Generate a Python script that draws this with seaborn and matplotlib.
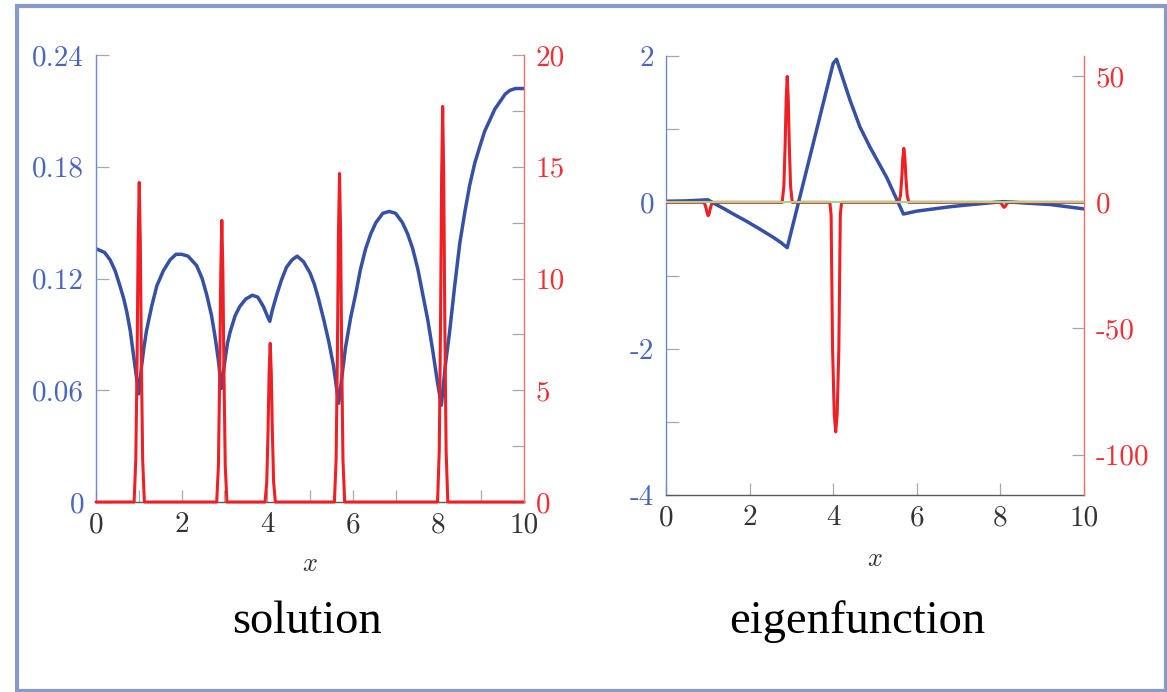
import matplotlib
matplotlib.use("Agg")
import matplotlib.pyplot as plt
from matplotlib.patches import Rectangle
import seaborn as sns

# ------------------------------------------------------------
# values
# ------------------------------------------------------------
# left panel, blue curve (solution)
sol_x = [0.0, 0.2, 0.33, 0.45, 0.56, 0.65, 0.72, 0.80, 0.87, 0.94, 1.0,
         1.06, 1.12, 1.18, 1.30, 1.42, 1.57, 1.73, 1.87, 2.0, 2.15, 2.35,
         2.48, 2.59, 2.70, 2.78, 2.86, 2.93, 3.0, 3.07, 3.13, 3.25, 3.36,
         3.50, 3.65, 3.78, 3.91, 4.0, 4.06, 4.12, 4.22, 4.33, 4.45, 4.58,
         4.70, 4.85, 5.0, 5.1, 5.2, 5.32, 5.44, 5.55, 5.67, 5.76, 5.83,
         5.95, 6.07, 6.18, 6.30, 6.42, 6.54, 6.70, 6.85, 7.0, 7.16, 7.28,
         7.40, 7.52, 7.63, 7.75, 7.87, 7.98, 8.07, 8.16, 8.26, 8.38, 8.5,
         8.62, 8.73, 8.85, 8.97, 9.08, 9.2, 9.32, 9.44, 9.56, 9.67, 9.8, 10.0]
sol_y = [0.136, 0.134, 0.130, 0.124, 0.116, 0.109, 0.102, 0.092, 0.080, 0.068, 0.058,
         0.072, 0.083, 0.092, 0.105, 0.116, 0.124, 0.130, 0.133, 0.133, 0.132, 0.127,
         0.120, 0.111, 0.100, 0.089, 0.076, 0.061, 0.074, 0.085, 0.091, 0.100, 0.105,
         0.109, 0.111, 0.110, 0.105, 0.100, 0.097, 0.103, 0.111, 0.119, 0.126, 0.130,
         0.132, 0.129, 0.123, 0.117, 0.109, 0.098, 0.086, 0.073, 0.053, 0.070, 0.083,
         0.099, 0.112, 0.125, 0.136, 0.144, 0.150, 0.155, 0.156, 0.155, 0.150, 0.144,
         0.136, 0.125, 0.112, 0.098, 0.081, 0.064, 0.052, 0.073, 0.091, 0.116, 0.139,
         0.156, 0.170, 0.182, 0.191, 0.199, 0.205, 0.211, 0.215, 0.219, 0.221, 0.222, 0.222]

# left panel, red spikes (right axis)
sol_src_x = [0.0,
             0.89, 0.93, 0.96, 0.985, 1.01, 1.035, 1.06, 1.09, 1.13,
             2.82, 2.86, 2.89, 2.915, 2.94, 2.965, 2.99, 3.02, 3.06,
             3.95, 3.99, 4.02, 4.045, 4.07, 4.095, 4.12, 4.15, 4.19,
             5.57, 5.61, 5.64, 5.665, 5.69, 5.715, 5.74, 5.77, 5.81,
             7.98, 8.02, 8.05, 8.075, 8.10, 8.125, 8.15, 8.18, 8.22,
             10.0]
sol_src_y = [0.0,
             0, 1.9, 6.4, 11.7, 14.3, 11.7, 6.4, 1.9, 0,
             0, 1.6, 5.7, 10.3, 12.6, 10.3, 5.7, 1.6, 0,
             0, 0.9, 3.2, 5.8, 7.1, 5.8, 3.2, 0.9, 0,
             0, 1.9, 6.6, 12.1, 14.7, 12.1, 6.6, 1.9, 0,
             0, 2.3, 8.0, 14.5, 17.7, 14.5, 8.0, 2.3, 0,
             0.0]

# right panel, blue curve (eigenfunction)
eig_x = [0.0, 0.5, 1.0, 1.2, 1.4, 1.61, 1.9, 2.17, 2.4, 2.57, 2.75, 2.90,
         4.0, 4.08, 4.40, 4.64, 4.88, 5.28, 5.68,
         6.0, 6.4, 6.8, 7.19, 7.6, 8.07, 8.6, 9.19, 9.6, 10.0]
eig_y = [0.015, 0.02, 0.035, -0.03, -0.09, -0.16, -0.25, -0.34, -0.42, -0.48, -0.55, -0.62,
         1.90, 1.956, 1.40, 1.03, 0.755, 0.34, -0.16,
         -0.12, -0.09, -0.06, -0.037, -0.015, 0.01, -0.01, -0.03, -0.06, -0.09]

# right panel, red spikes (right axis)
eig_src_x = [0.0,
             0.89, 0.93, 0.96, 0.985, 1.01, 1.035, 1.06, 1.09, 1.13,
             2.78, 2.82, 2.85, 2.875, 2.90, 2.925, 2.95, 2.98, 3.02,
             3.92, 3.95, 3.965, 3.985, 4.025, 4.06, 4.095, 4.135, 4.155, 4.17, 4.20,
             5.57, 5.61, 5.64, 5.665, 5.69, 5.715, 5.74, 5.77, 5.81,
             7.97, 8.01, 8.04, 8.065, 8.09, 8.115, 8.14, 8.17, 8.21,
             10.0]
eig_src_y = [0.0,
             0, -0.7, -2.4, -4.3, -5.3, -4.3, -2.4, -0.7, 0,
             0, 6.5, 22.5, 40.9, 49.9, 40.9, 22.5, 6.5, 0,
             0, -5.0, -28.0, -58.0, -84.0, -91.0, -84.0, -58.0, -28.0, -5.0, 0,
             0, 2.8, 9.6, 17.5, 21.4, 17.5, 9.6, 2.8, 0,
             0, -0.3, -0.9, -1.6, -2.0, -1.6, -0.9, -0.3, 0,
             0.0]
eig_zero_level = 0.0

# ticks and labels
x_ticks = [0, 2, 4, 6, 8, 10]
x_labels = ["0", "2", "4", "6", "8", "10"]
sol_left_ticks = [0, 0.06, 0.12, 0.18, 0.24]
sol_left_labels = ["0", "0.06", "0.12", "0.18", "0.24"]
sol_right_ticks = [0, 5, 10, 15, 20]
sol_right_labels = ["0", "5", "10", "15", "20"]
eig_left_ticks = [-4, -2, 0, 2]
eig_left_labels = ["-4", "-2", "0", "2"]
eig_right_ticks = [-100, -50, 0, 50]
eig_right_labels = ["-100", "-50", "0", "50"]
captions = ["solution", "eigenfunction"]

# ------------------------------------------------------------
# styling
# ------------------------------------------------------------
BLUE = "#3651a3"
BLUE_TXT = "#4a66bb"
BLUE_SPINE = "#7088cc"
RED = "#ee1f25"
RED_TXT = "#ee3035"
RED_SPINE = "#f07070"
GREEN = "#9bd98e"
TICK = "#a8a8a8"
FRAME = "#8a9ac8"

sns.set_style("white")
plt.rcParams["font.family"] = ["cmr10", "DejaVu Serif"]
plt.rcParams["mathtext.fontset"] = "cm"
plt.rcParams["axes.unicode_minus"] = False

W, H = 1167, 692
fig = plt.figure(figsize=(W / 100, H / 100), dpi=100)


def style_pair(ax, ax2):
    ax.spines["top"].set_visible(False)
    ax.spines["right"].set_visible(False)
    ax2.spines["top"].set_visible(False)
    ax2.spines["left"].set_visible(False)
    ax2.spines["bottom"].set_visible(False)
    ax.spines["left"].set_color(BLUE_SPINE)
    ax.spines["left"].set_linewidth(1.0)
    ax.spines["bottom"].set_color("#5a5a5a")
    ax.spines["bottom"].set_linewidth(1.0)
    ax2.spines["right"].set_color(RED_SPINE)
    ax2.spines["right"].set_linewidth(1.0)

    ax.tick_params(axis="both", which="both", direction="in", color=TICK,
                   length=9, width=0.9, bottom=True, left=True, top=False, right=False)
    ax.tick_params(axis="y", labelcolor=BLUE_TXT, labelsize=21, pad=8.5)
    ax.tick_params(axis="x", labelcolor="#333333", labelsize=21, pad=7)
    ax2.tick_params(axis="y", which="both", direction="in", color=TICK, length=9,
                    width=0.9, left=False, right=True, labelleft=False, labelright=True,
                    labelcolor=RED_TXT, labelsize=21, pad=8.5)
    ax.set_xlim(0, 10)
    ax.set_xticks(x_ticks)
    ax.set_xticklabels(x_labels)
    ax.set_xlabel("$x$", fontsize=19, color="#333333")
    ax.set_ylabel("")
    ax2.set_ylabel("")


# ---------------- left panel: solution ----------------
ax_s = fig.add_axes([96 / W, 1 - 502 / H, 428 / W, 447 / H])
ax_s2 = ax_s.twinx()

sns.lineplot(x=sol_x, y=sol_y, ax=ax_s, color=BLUE, linewidth=2.5,
             estimator=None, sort=False)
sns.lineplot(x=sol_src_x, y=sol_src_y, ax=ax_s2, color=RED, linewidth=2.2,
             estimator=None, sort=False)
for ln in ax_s2.lines:
    ln.set_clip_on(False)

style_pair(ax_s, ax_s2)
ax_s.set_ylim(0, 0.24)
ax_s.set_yticks(sol_left_ticks)
ax_s.set_yticklabels(sol_left_labels)
ax_s.set_xticks([1, 3, 5, 7, 9], minor=True)
ax_s2.set_ylim(0, 20)
ax_s2.set_yticks(sol_right_ticks)
ax_s2.set_yticklabels(sol_right_labels)
ax_s2.set_yticks([2.5, 7.5, 12.5, 17.5], minor=True)
ax_s.xaxis.set_label_coords(0.5, -0.112)

# ---------------- right panel: eigenfunction ----------------
ax_e = fig.add_axes([666 / W, 1 - 495 / H, 418 / W, 439 / H])
ax_e2 = ax_e.twinx()

sns.lineplot(x=eig_x, y=eig_y, ax=ax_e, color=BLUE, linewidth=2.5,
             estimator=None, sort=False)
sns.lineplot(x=eig_src_x, y=eig_src_y, ax=ax_e2, color=RED, linewidth=2.2,
             estimator=None, sort=False)
ax_e2.axhline(eig_zero_level, color=GREEN, linewidth=1.5, zorder=3)

style_pair(ax_e, ax_e2)
ax_e.set_ylim(-4, 2)
ax_e.set_yticks(eig_left_ticks)
ax_e.set_yticklabels(eig_left_labels)
ax_e.set_yticks([-3, -1, 1], minor=True)
ax_e2.set_ylim(-116, 58)
ax_e2.set_yticks(eig_right_ticks)
ax_e2.set_yticklabels(eig_right_labels)
ax_e.xaxis.set_label_coords(0.5, -0.118)

# captions under each panel
cap_font = ["Liberation Serif", "DejaVu Serif"]
fig.text(307 / W, 1 - 633 / H, captions[0], ha="center", va="baseline",
         fontsize=33.5, family=cap_font, color="black")
fig.text(857 / W, 1 - 633 / H, captions[1], ha="center", va="baseline",
         fontsize=33.5, family=cap_font, color="black")

# slide frame
fig.add_artist(Rectangle((17 / W, 1 - 690.5 / H), (1165.5 - 17) / W, (690.5 - 6) / H,
                         transform=fig.transFigure, fill=False, edgecolor=FRAME,
                         linewidth=3.0))

fig.savefig("out.png", dpi=100)
plt.close(fig)
